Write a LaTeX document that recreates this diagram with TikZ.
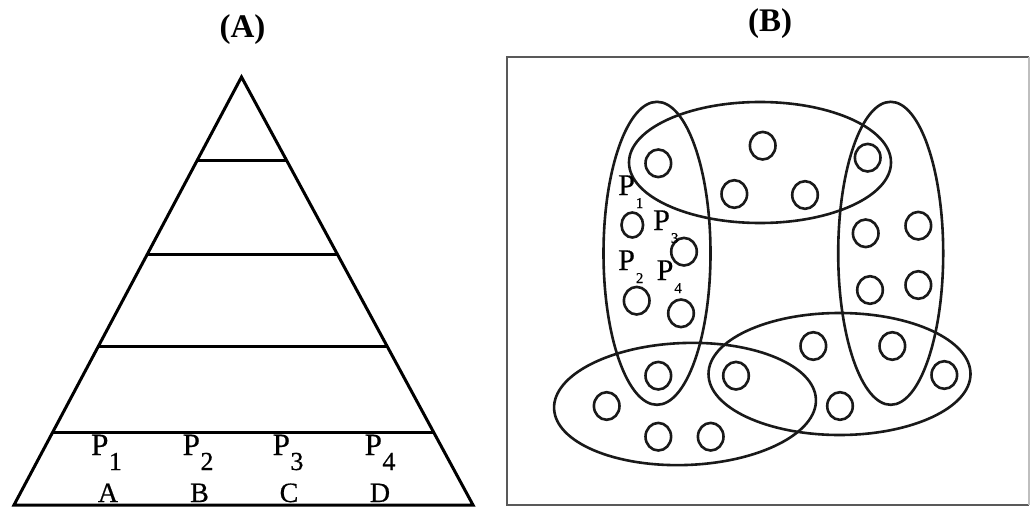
\documentclass[tikz,border=0pt]{standalone}
\usepackage{fontspec}
\setmainfont{Liberation Serif}
\newfontfamily\heavyserif{Liberation Serif}[FakeBold=0.6]
\usetikzlibrary{calc}
\newcommand\subA[1]{\kern0.5pt\raisebox{-15pt}{\fontsize{26}{26}\selectfont #1}}
\newcommand\subB[1]{\kern1pt\raisebox{-13pt}{\fontsize{15}{15}\selectfont #1}}
\begin{document}
\begin{tikzpicture}[x=1pt,y=-1pt,
  pyr/.style={line width=3pt,line join=miter,black},
  bigell/.style={line width=2.6pt,black!90},
  dot/.style={line width=2.6pt,black!90},
  frame/.style={line width=2pt,black!65},
  titlelab/.style={font=\fontsize{33}{33}\selectfont\bfseries,inner sep=0pt},
  plabA/.style={font=\heavyserif\fontsize{31}{31}\selectfont,inner sep=0pt,anchor=base west},
  letlab/.style={font=\heavyserif\fontsize{28}{28}\selectfont,inner sep=0pt,anchor=base},
  plabB/.style={font=\heavyserif\fontsize{30}{30}\selectfont,inner sep=0pt,anchor=base west}]
\useasboundingbox (0,0) rectangle (1032,508);

% ---------- Panel A ----------
\node[titlelab] (tA) at (242.5,30) {(A)};
\coordinate (T) at (241.5,77);
\coordinate (BL) at (14,505);
\coordinate (BR) at (473,505);
\draw[pyr] (T) -- (BL) -- (BR) -- cycle;
\foreach \t/\n in {0.1956/1,0.4136/2,0.6308/3,0.8311/4}{
  \coordinate (l\n) at ($(T)!\t!(BL)$);
  \coordinate (r\n) at ($(T)!\t!(BR)$);
  \draw[pyr] (l\n) -- (r\n);
}
\node[plabA] (pa1) at (91,455) {P\subA{1}};
\node[plabA] (pa2) at (182.5,455) {P\subA{2}};
\node[plabA] (pa3) at (272.5,455) {P\subA{3}};
\node[plabA] (pa4) at (364.5,455) {P\subA{4}};
\node[letlab] (la) at (108,502) {A};
\node[letlab] (lb) at (199.5,502) {B};
\node[letlab] (lc) at (289,502) {C};
\node[letlab] (ld) at (380,502) {D};

% ---------- Panel B ----------
\node[titlelab] (tB) at (770,24) {(B)};
\draw[frame] (1029,57) -- (507,57) -- (507,505) -- (1029,505);
\draw[line width=1.2pt,black!25] (1029,57) -- (1029,505);

\draw[bigell] (657,253.3) ellipse [x radius=53.5, y radius=151.5];
\draw[bigell] (760,162.5) ellipse [x radius=131, y radius=60.5];
\draw[bigell] (890.7,253.3) ellipse [x radius=52.5, y radius=151.5];
\draw[bigell,rotate around={2:(685,404)}] (685,404) ellipse [x radius=131, y radius=61];
\draw[bigell] (839.5,374) ellipse [x radius=131, y radius=61];

\foreach \cx/\cy in {658.3/163.3,762.7/145.7,867.7/157.7,734.3/194,805/195,
  684/251.7,636.7/300.7,681/313.3,865.7/233.3,918.3/225.7,870/290,918.3/285,
  813.3/346,892.3/346,658.3/375.7,736/375.7,606.7/406,944.3/375,840/406,
  658.3/436.7,710.7/436.7}{
  \draw[dot] (\cx,\cy) ellipse [x radius=12.8, y radius=13.8];
}
\draw[dot] (632.3,225) ellipse [x radius=10.8, y radius=12.5];

\node[plabB] (pb1) at (618,195) {P\subB{1}};
\node[plabB] (pb3) at (653,230) {P\subB{3}};
\node[plabB] (pb2) at (618,270) {P\subB{2}};
\node[plabB] (pb4) at (656.5,280) {P\subB{4}};
\end{tikzpicture}
\end{document}
